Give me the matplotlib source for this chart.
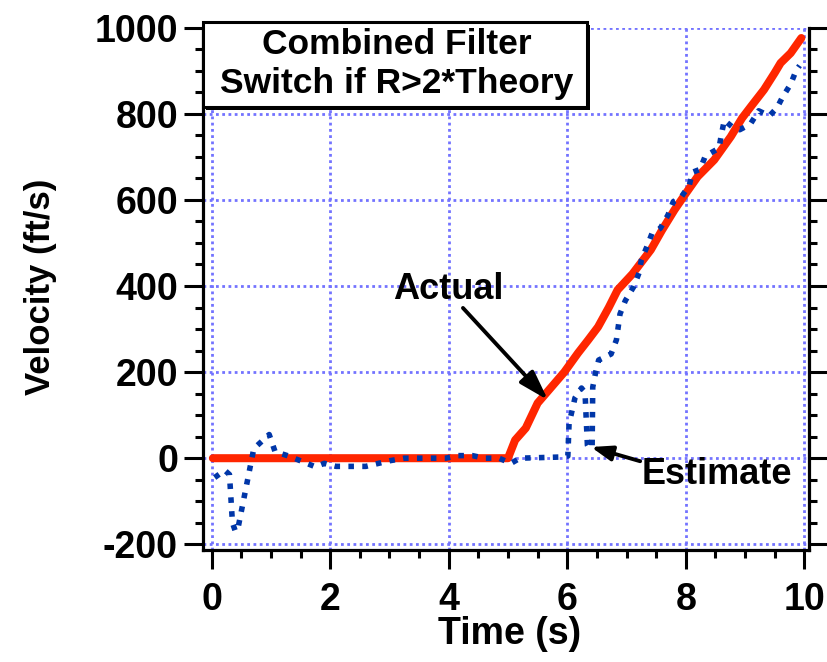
import matplotlib
matplotlib.use("Agg")
import matplotlib.pyplot as plt
from matplotlib.patches import Rectangle
from matplotlib.ticker import MultipleLocator

# ---- data ----
actual_t = [0.02, 5.0, 5.12, 5.3, 5.5, 5.95, 6.18, 6.35, 6.52, 6.7, 6.85, 7.1, 7.41,
            7.6, 7.81, 8.0, 8.2, 8.48, 8.76, 8.95, 9.1, 9.32, 9.5, 9.6, 9.77, 9.95]
actual_v = [0, 0, 42, 70, 128, 200, 244, 274, 305, 350, 391, 428, 484,
            530, 577, 615, 654, 693, 747, 790, 817, 856, 895, 918, 941, 976]

est_t = [0.05, 0.22, 0.30, 0.35, 0.40, 0.44, 0.71, 0.78, 0.97, 1.07, 1.3, 1.75, 1.9, 2.1,
         2.6, 3.0, 3.25, 3.95, 4.15, 4.4, 4.6, 4.85, 5.05, 5.2, 5.95, 6.01, 6.03, 6.13,
         6.24, 6.30, 6.34, 6.37, 6.42, 6.43, 6.48, 6.53, 6.74, 6.83, 6.89, 6.98, 7.12,
         7.21, 7.25, 7.34, 7.43, 7.57, 7.70, 7.79, 7.93, 8.06, 8.11, 8.24, 8.33, 8.56,
         8.60, 8.65, 8.78, 8.91, 9.09, 9.23, 9.41, 9.54, 9.63, 9.77, 9.86, 9.92]
est_v = [-45, -28, -38, -150, -170, -165, 22, 31, 55, 15, 5, -20, -12, -19,
         -19, -6, 0, 0, 6, 6, 0, 0, -12, 0, 3, 5, 80, 140,
         163, 152, 30, 22, 30, 165, 200, 228, 242, 275, 335, 366, 398,
         430, 460, 490, 522, 534, 565, 596, 608, 634, 664, 671, 702, 720,
         751, 785, 770, 763, 776, 807, 795, 814, 838, 869, 900, 912]

x_major = [0, 2, 4, 6, 8, 10]
y_major = [-200, 0, 200, 400, 600, 800, 1000]

title_lines = ["Combined Filter", "Switch if R>2*Theory"]
x_label = "Time (s)"
y_label = "Velocity (ft/s)"

W, H = 827, 662
FONT = ['Liberation Sans', 'DejaVu Sans']
plt.rcParams['font.family'] = FONT
plt.rcParams['font.weight'] = 'bold'

fig = plt.figure(figsize=(W / 100, H / 100), dpi=100)

def fx(px):
    return px / W

def fy(py):
    return 1 - py / H

# axes frame in pixels
L, R, T, B = 203, 809, 27.7, 550
ax = fig.add_axes([fx(L), fy(B), fx(R) - fx(L), fy(T) - fy(B)])

xs = (804.3 - 211.7) / 10.0
ys = (544.3 - 27.7) / 1200.0
ax.set_xlim(-(211.7 - L) / xs, 10 + (R - 804.3) / xs)
ax.set_ylim(-200 - (B - 544.3) / ys, 1000)

ax.grid(True, which='major', color='#7373FF', linestyle=(0, (1, 1.25)), linewidth=2.0)
ax.set_axisbelow(True)

ax.plot(actual_t, actual_v, color='#FF2600', lw=5.8, solid_capstyle='round',
        solid_joinstyle='round', zorder=3)
ax.plot(est_t, est_v, color='#0036A8', lw=4.0, linestyle=(0, (1, 1.5)),
        dash_capstyle='butt', zorder=4)

ax.xaxis.set_major_locator(MultipleLocator(2))
ax.xaxis.set_minor_locator(MultipleLocator(0.5))
ax.yaxis.set_major_locator(MultipleLocator(200))
ax.yaxis.set_minor_locator(MultipleLocator(50))
ax.set_xticks(x_major)
ax.set_yticks(y_major)
ax.set_xticklabels([str(v) for v in x_major])
ax.set_yticklabels([str(v) for v in y_major])

for s in ['left', 'bottom', 'right']:
    ax.spines[s].set_linewidth(2.3)
ax.spines['top'].set_visible(False)

ax.tick_params(which='both', direction='out', width=2.2, right=True, top=False,
               labelright=False, colors='black')
ax.tick_params(which='major', length=14)
ax.tick_params(which='minor', length=6)
ax.tick_params(axis='x', which='major', labelsize=27, pad=9)
ax.tick_params(axis='y', which='major', labelsize=27, pad=4)
for lab in ax.get_xticklabels() + ax.get_yticklabels():
    lab.set_fontweight('bold')

fig.text(fx(510), fy(634), x_label, ha='center', va='center', fontsize=27,
         fontweight='bold')
fig.text(fx(41), fy(287), y_label, ha='center', va='center', rotation=90,
         fontsize=25, fontweight='bold')

# annotations
ax.text(4.0, 391, "Actual", ha='center', va='center', fontsize=26, fontweight='bold',
        zorder=6)
ax.annotate("", xy=(5.675, 135), xytext=(4.24, 349),
            arrowprops=dict(arrowstyle='-|>,head_length=0.9,head_width=0.28',
                            lw=2.8, color='black', mutation_scale=20,
                            shrinkA=0, shrinkB=0), zorder=6)
ax.text(8.53, -37, "Estimate", ha='center', va='center', fontsize=26,
        fontweight='bold', zorder=6)
ax.annotate("", xy=(6.40, 26), xytext=(7.23, -7),
            arrowprops=dict(arrowstyle='-|>,head_length=0.7,head_width=0.25',
                            lw=2.8, color='black', mutation_scale=18,
                            shrinkA=0, shrinkB=0), zorder=6)

# title box with shadow
bx0, by0, bx1, by1 = 203, 22, 587, 107
fig.add_artist(Rectangle((fx(bx0) + 3 / W, fy(by1) - 3 / H), (bx1 - bx0) / W,
                         (by1 - by0) / H, transform=fig.transFigure,
                         facecolor='black', edgecolor='black', lw=0, zorder=9))
fig.add_artist(Rectangle((fx(bx0), fy(by1)), (bx1 - bx0) / W, (by1 - by0) / H,
                         transform=fig.transFigure, facecolor='white',
                         edgecolor='black', lw=2.2, zorder=10))
fig.text(fx(397), fy(44), title_lines[0], ha='center', va='center', fontsize=25.5,
         fontweight='bold', zorder=11)
fig.text(fx(397), fy(83), title_lines[1], ha='center', va='center', fontsize=25.5,
         fontweight='bold', zorder=11)

fig.savefig("out.png", dpi=100)
